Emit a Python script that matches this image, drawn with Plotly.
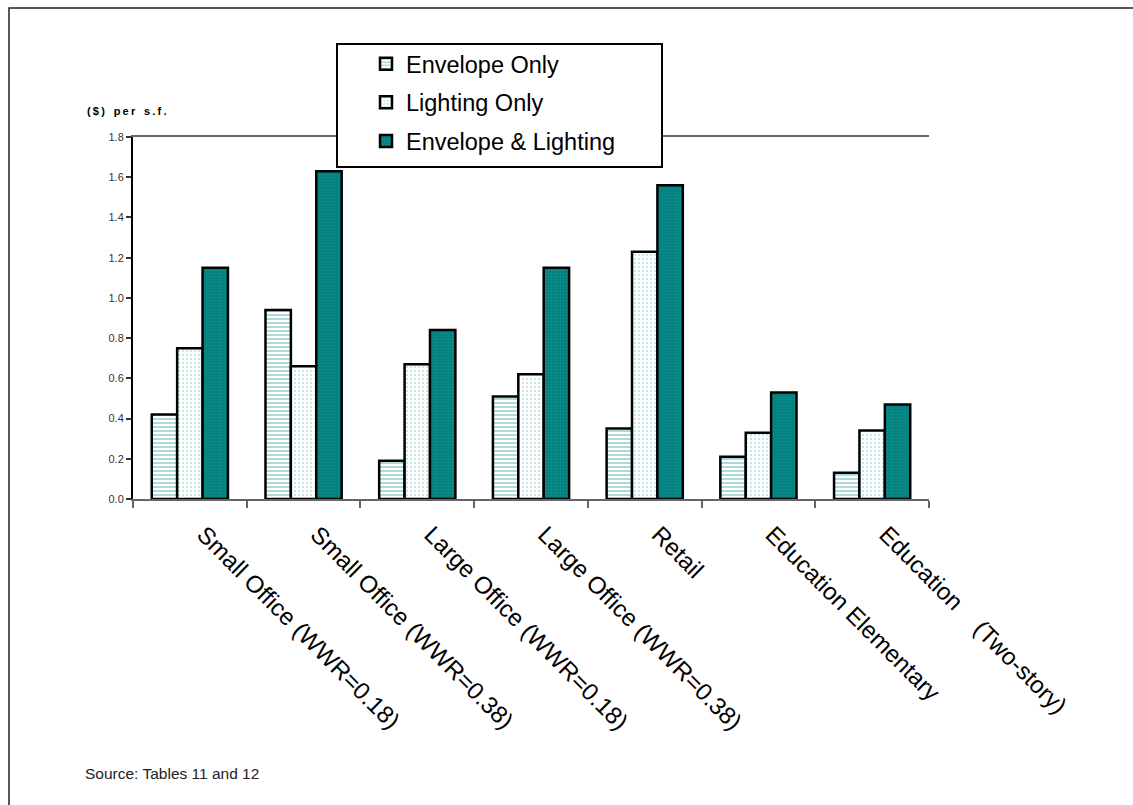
import plotly.graph_objects as go

categories = [
    "Small Office (WWR=0.18)",
    "Small Office (WWR=0.38)",
    "Large Office (WWR=0.18)",
    "Large Office (WWR=0.38)",
    "Retail",
    "Education Elementary",
    "Education" + "\u00a0" * 4 + "(Two-story)",
]
envelope_only = [0.42, 0.94, 0.19, 0.51, 0.35, 0.21, 0.13]
lighting_only = [0.75, 0.66, 0.67, 0.62, 1.23, 0.33, 0.34]
envelope_lighting = [1.15, 1.63, 0.84, 1.15, 1.56, 0.53, 0.47]
y_ticks = [0.0, 0.2, 0.4, 0.6, 0.8, 1.0, 1.2, 1.4, 1.6, 1.8]

FONT = "Liberation Sans, Arial, sans-serif"

# plot area in pixels
W, H = 1133, 805
L, R, T, B = 133, 929, 137, 499


def px_x(p):
    return (p - L) / (R - L)


def px_y(p):
    return (B - p) / (B - T)


fig = go.Figure()
fig.add_trace(go.Bar(
    name="Envelope Only", x=categories, y=envelope_only, legendgroup="a",
    marker=dict(color="white", line=dict(color="black", width=2.5),
                pattern=dict(shape="-", fgcolor="#5fb3b3", size=4, solidity=0.5)),
))
fig.add_trace(go.Bar(
    name="Lighting Only", x=categories, y=lighting_only, legendgroup="b",
    marker=dict(color="white", line=dict(color="black", width=2.5),
                pattern=dict(shape=".", fgcolor="#8ccaca", size=4, solidity=0.25)),
))
fig.add_trace(go.Bar(
    name="Envelope & Lighting", x=categories, y=envelope_lighting, legendgroup="c",
    marker=dict(color="#008080", line=dict(color="black", width=2.5),
                pattern=dict(shape=".", fgcolor="#2a9a9a", size=3, solidity=0.3)),
))

sp = "\u2009"
ytitle = sp.join(list("($)")) + sp * 4 + sp.join(list("per")) + sp * 4 + sp.join(list("s.f."))

fig.update_layout(
    width=W, height=H,
    margin=dict(l=L, r=W - R, t=T, b=H - B, pad=0),
    paper_bgcolor="white", plot_bgcolor="white",
    barmode="group", bargap=0.33, bargroupgap=0,
    font=dict(family=FONT, color="black"),
    showlegend=True,
    legend=dict(
        x=px_x(366), y=px_y(42), xanchor="left", yanchor="top",
        bgcolor="rgba(0,0,0,0)", borderwidth=0,
        font=dict(family=FONT, size=23.5, color="black"),
        traceorder="grouped", tracegroupgap=5,
    ),
    xaxis=dict(
        type="category", showgrid=False, showline=True, linecolor="#666666",
        linewidth=2, mirror=True, ticks="outside", ticklen=7, tickwidth=1.5,
        tickcolor="#666666", tickson="boundaries", tickangle=45,
        ticklabelshift=14, ticklabelstandoff=10,
        tickfont=dict(family=FONT, size=24, color="black"),
    ),
    yaxis=dict(
        range=[0, 1.8], tickvals=y_ticks, tickformat=".1f", showgrid=False,
        showline=True, linecolor="black", linewidth=2, ticks="outside",
        ticklen=5, tickwidth=1.5, tickcolor="#333333", zeroline=False,
        tickfont=dict(family=FONT, size=11, color="#333333"),
    ),
    shapes=[
        # outer frame
        dict(type="rect", xref="paper", yref="paper",
             x0=px_x(9), x1=px_x(1145), y0=px_y(815), y1=px_y(8),
             line=dict(color="#222222", width=1.5), fillcolor="rgba(0,0,0,0)",
             layer="below"),
        # legend box
        dict(type="rect", xref="paper", yref="paper",
             x0=px_x(337), x1=px_x(662), y0=px_y(167), y1=px_y(44),
             line=dict(color="black", width=2), fillcolor="white", layer="above"),
    ],
    annotations=[
        dict(text="<b>" + ytitle + "</b>",
             xref="paper", yref="paper", x=px_x(85), y=px_y(111),
             xanchor="left", yanchor="middle", showarrow=False,
             font=dict(family=FONT, size=11, color="black")),
        dict(text="Source: Tables 11 and 12",
             xref="paper", yref="paper", x=px_x(83), y=px_y(773),
             xanchor="left", yanchor="middle", showarrow=False,
             font=dict(family=FONT, size=15.5, color="#222222")),
    ],
)

fig.write_html("out.html")
